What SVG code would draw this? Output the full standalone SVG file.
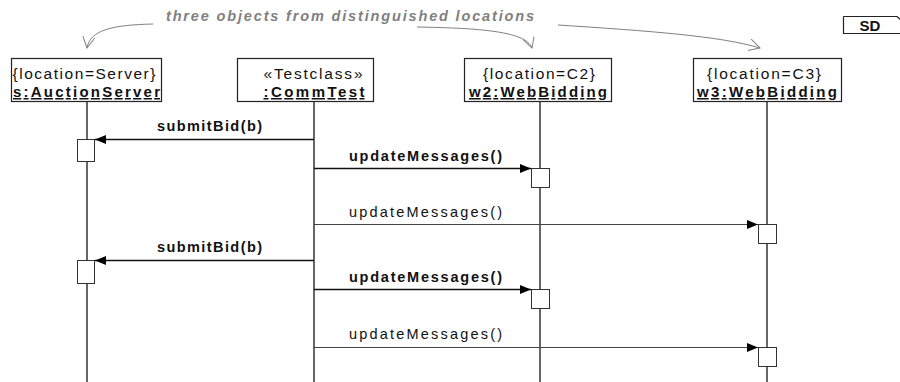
<svg xmlns="http://www.w3.org/2000/svg" width="900" height="382" viewBox="0 0 900 382">
<defs>
<style>
.box{fill:#fff;stroke:#222;stroke-width:1.2}
.life{stroke:#000;stroke-width:1.2;fill:none}
.act{fill:#fff;stroke:#333;stroke-width:1}
.t{font-family:"Liberation Sans",Arial,sans-serif;font-size:15.5px;fill:#111;text-anchor:middle}
.tb{font-family:"Liberation Sans",Arial,sans-serif;font-size:15px;font-weight:bold;fill:#111;text-anchor:middle;text-decoration:underline}
.ml{font-family:"Liberation Sans",Arial,sans-serif;font-size:14.5px;fill:#111;text-anchor:middle}
.mb{font-weight:bold}
.msg{stroke:#111;stroke-width:1.3;fill:none;marker-end:url(#fa)}
.msgn{stroke:#444;stroke-width:1;fill:none;marker-end:url(#fa)}
.note{font-family:"Liberation Sans",Arial,sans-serif;font-size:14.5px;font-weight:bold;font-style:italic;fill:#808080}
.cv{stroke:#808080;stroke-width:1;fill:none;marker-end:url(#oa)}
</style>
<marker id="fa" markerUnits="userSpaceOnUse" markerWidth="12" markerHeight="10" refX="11" refY="4.5" orient="auto">
<path d="M0,0 L11,4.5 L0,9 z" fill="#000"/>
</marker>
<marker id="oa" markerUnits="userSpaceOnUse" markerWidth="14" markerHeight="14" refX="11" refY="6" orient="auto">
<path d="M0,0 L11,6 L0,12" fill="none" stroke="#808080" stroke-width="1"/>
</marker>
</defs>
<rect width="900" height="382" fill="#fff"/>

<g id="frame">
<path d="M843.5,16.5 H897 L901,20 M843.5,16.5 V33.5 H901" fill="none" stroke="#222" stroke-width="1.2"/>
<text x="870" y="30.5" class="ml mb" style="font-size:15px">SD</text>
</g>

<g id="note">
<text x="166" y="21" class="note" textLength="368" lengthAdjust="spacing">three objects from distinguished locations</text>
<path class="cv" d="M153,24 C112,25 90,30 87,48"/>
<path class="cv" d="M417,27 C470,28 526,30 532,48"/>
<path class="cv" d="M558,25 C650,31 720,36 760,48"/>
</g>

<g id="lifelines">
<line class="life" x1="87" y1="102" x2="87" y2="382"/>
<line class="life" x1="314" y1="102" x2="314" y2="382"/>
<line class="life" x1="540" y1="102" x2="540" y2="382"/>
<line class="life" x1="767" y1="102" x2="767" y2="382"/>
</g>

<g id="auctionServer">
<rect class="box" x="11.5" y="58.5" width="150" height="43"/>
<text class="t" x="84" y="79" textLength="143" lengthAdjust="spacing">{location=Server}</text>
<text class="tb" x="86.5" y="97" textLength="147" lengthAdjust="spacing">s:AuctionServer</text>
</g>

<g id="commTest">
<rect class="box" x="237.5" y="58.5" width="136" height="43"/>
<text class="t" x="313" y="79" textLength="99" lengthAdjust="spacing">«Testclass»</text>
<text class="tb" x="314" y="97" textLength="101" lengthAdjust="spacing">:CommTest</text>
</g>

<g id="webBidding2">
<rect class="box" x="464.5" y="58.5" width="147" height="43"/>
<text class="t" x="539" y="79" textLength="112" lengthAdjust="spacing">{location=C2}</text>
<text class="tb" x="538" y="97" textLength="138" lengthAdjust="spacing">w2:WebBidding</text>
</g>

<g id="webBidding3">
<rect class="box" x="693.5" y="58.5" width="148" height="43"/>
<text class="t" x="764" y="79" textLength="114" lengthAdjust="spacing">{location=C3}</text>
<text class="tb" x="767" y="97" textLength="140" lengthAdjust="spacing">w3:WebBidding</text>
</g>

<g id="activations">
<rect class="act" x="77.5" y="139.5" width="17" height="22"/>
<rect class="act" x="531.5" y="168.5" width="18" height="19"/>
<rect class="act" x="758.5" y="224.5" width="18" height="19"/>
<rect class="act" x="77.5" y="260.5" width="17" height="23"/>
<rect class="act" x="531.5" y="289.5" width="18" height="19"/>
<rect class="act" x="758.5" y="347.5" width="18" height="19"/>
</g>

<g id="connectors">
<line class="msg" x1="314" y1="139.5" x2="95" y2="139.5"/>
<line class="msg" x1="314" y1="168.5" x2="531" y2="168.5"/>
<line class="msgn" x1="314" y1="224.5" x2="758" y2="224.5"/>
<line class="msg" x1="314" y1="260.5" x2="95" y2="260.5"/>
<line class="msg" x1="314" y1="289.5" x2="531" y2="289.5"/>
<line class="msgn" x1="314" y1="347.5" x2="758" y2="347.5"/>
<text class="ml mb" x="209.5" y="131" textLength="105" lengthAdjust="spacing">submitBid(b)</text>
<text class="ml mb" x="425.5" y="161" textLength="153" lengthAdjust="spacing">updateMessages()</text>
<text class="ml" x="425.5" y="217" textLength="153" lengthAdjust="spacing">updateMessages()</text>
<text class="ml mb" x="209.5" y="252" textLength="105" lengthAdjust="spacing">submitBid(b)</text>
<text class="ml mb" x="425.5" y="282" textLength="153" lengthAdjust="spacing">updateMessages()</text>
<text class="ml" x="425.5" y="339" textLength="153" lengthAdjust="spacing">updateMessages()</text>
</g>
</svg>
